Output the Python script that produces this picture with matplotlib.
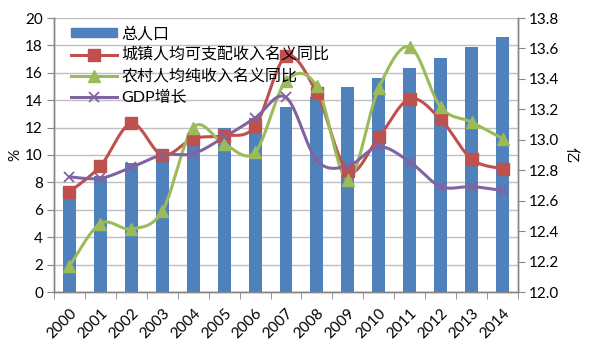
import numpy as np
import matplotlib
matplotlib.use("Agg")
import matplotlib.pyplot as plt
from matplotlib.lines import Line2D
from matplotlib.patches import Patch

plt.rcParams['font.family'] = ['Lato', 'Noto Sans CJK SC', 'DejaVu Sans']

years = ['2000', '2001', '2002', '2003', '2004', '2005', '2006', '2007',
         '2008', '2009', '2010', '2011', '2012', '2013', '2014']
population = [12.6743, 12.7627, 12.8453, 12.9227, 12.9988, 13.0756, 13.1448, 13.2129,
              13.2802, 13.3450, 13.4091, 13.4735, 13.5404, 13.6072, 13.6782]
urban = [7.3, 9.2, 12.3, 10.0, 11.2, 11.4, 12.1, 17.2, 14.5, 8.8, 11.3, 14.1, 12.6, 9.7, 9.0]
rural = [1.9, 5.0, 4.6, 5.9, 12.0, 10.8, 10.2, 15.4, 15.0, 8.2, 14.9, 17.9, 13.5, 12.4, 11.2]
gdp = [8.4, 8.3, 9.1, 10.0, 10.1, 11.3, 12.7, 14.2, 9.6, 9.2, 10.6, 9.5, 7.7, 7.7, 7.4]

names = ['总人口', '城镇人均可支配收入名义同比', '农村人均纯收入名义同比', 'GDP增长']

c_bar = '#4F81BD'
c_red = '#C0504D'
c_green = '#9BBB59'
c_purple = '#8064A2'
grid_c = '#BFBFBF'
axis_c = '#868686'


def smooth(x, y, n=24):
    """Excel-like smoothed curve (Catmull-Rom via cubic Bezier)."""
    x = np.asarray(x, float)
    y = np.asarray(y, float)
    P = np.column_stack([x, y])
    out = []
    for i in range(len(P) - 1):
        p0 = P[i - 1] if i > 0 else P[i]
        p1 = P[i]
        p2 = P[i + 1]
        p3 = P[i + 2] if i + 2 < len(P) else P[i + 1]
        c1 = p1 + (p2 - p0) / 6.0
        c2 = p2 - (p3 - p1) / 6.0
        t = np.linspace(0, 1, n, endpoint=(i == len(P) - 2))[:, None]
        b = ((1 - t) ** 3) * p1 + 3 * ((1 - t) ** 2) * t * c1 + 3 * (1 - t) * t ** 2 * c2 + t ** 3 * p2
        out.append(b)
    out = np.vstack(out)
    return out[:, 0], out[:, 1]


fig = plt.figure(figsize=(5.91, 3.55), dpi=100)
axb = fig.add_axes([54 / 591, 1 - 292 / 355, (518 - 54) / 591, (292 - 18) / 355])
axl = axb.twinx()

x = np.arange(len(years))

# bars (right scale)
axb.set_ylim(12.0, 13.8)
axb.set_xlim(-0.5, len(years) - 0.5)
# gridlines aligned with left-axis ticks, behind bars
for v in range(0, 21, 2):
    axb.axhline(12.0 + v * 1.8 / 20, color=grid_c, lw=1.0, zorder=0)
axb.bar(x, [p - 12.0 for p in population], bottom=12.0, width=0.42, color=c_bar, zorder=2)
axb.yaxis.tick_right()
axb.yaxis.set_label_position('right')
axb.set_yticks(np.round(np.arange(12.0, 13.81, 0.2), 1))
axb.set_yticklabels(['%.1f' % v for v in np.arange(12.0, 13.81, 0.2)])
axb.set_ylabel('亿', rotation=270, fontsize=11, labelpad=13)

# lines (left scale)
axl.set_ylim(0, 20)
axl.set_xlim(-0.5, len(years) - 0.5)
axl.yaxis.tick_left()
axl.yaxis.set_label_position('left')
axl.set_yticks(range(0, 21, 2))
axl.set_ylabel('%', fontsize=11, labelpad=2)

for vals, col, mk, ms, mew in [(urban, c_red, 's', 8, 1),
                               (rural, c_green, '^', 9, 1),
                               (gdp, c_purple, 'x', 7, 1.3)]:
    sx, sy = smooth(x, vals)
    axl.plot(sx, sy, color=col, lw=2.2, zorder=3, solid_capstyle='round')
    axl.plot(x, vals, ls='none', marker=mk, ms=ms, color=col, mec=col, mew=mew, zorder=4)

# x ticks
axb.set_xticks(x)
axb.set_xticklabels(years, rotation=45, ha='right', rotation_mode='anchor', fontsize=11)
axb.tick_params(axis='x', length=0, pad=10)
axb.set_xticks(np.arange(-0.5, len(years), 1.0), minor=True)
axb.tick_params(axis='x', which='minor', length=5, color=axis_c, direction='out')
axl.tick_params(axis='x', which='both', bottom=False, labelbottom=False)

for a in (axb, axl):
    for s in ('top',):
        a.spines[s].set_visible(False)
    for s in ('left', 'right', 'bottom'):
        a.spines[s].set_color(axis_c)
        a.spines[s].set_linewidth(1.0)
axb.tick_params(axis='y', length=5, color=axis_c, labelsize=11, pad=3)
axl.tick_params(axis='y', length=5, color=axis_c, labelsize=11, pad=3)

handles = [Patch(color=c_bar),
           Line2D([], [], color=c_red, lw=2.2, marker='s', ms=8),
           Line2D([], [], color=c_green, lw=2.2, marker='^', ms=9),
           Line2D([], [], color=c_purple, lw=2.2, marker='x', ms=7, mew=1.3)]
leg = axl.legend(handles, names, loc='upper left', bbox_to_anchor=(0.015, 1.005),
                 frameon=False, fontsize=11.5, handlelength=2.9, handleheight=0.5,
                 labelspacing=0.4, handletextpad=0.3, borderaxespad=0.2)

fig.savefig('out.png', dpi=100)
